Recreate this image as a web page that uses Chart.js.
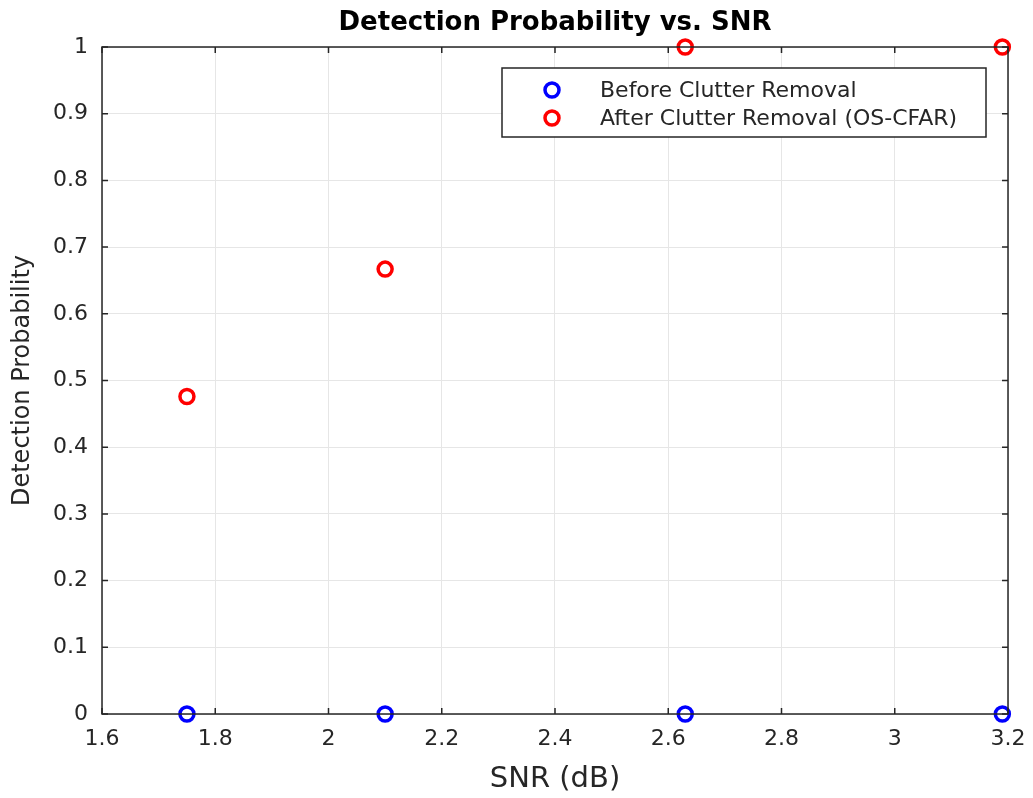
<!DOCTYPE html>
<html>
<head>
<meta charset="utf-8">
<script src="https://cdn.jsdelivr.net/npm/chart.js@4.4.0/dist/chart.umd.min.js"></script>
<style>
  html, body { margin: 0; padding: 0; background: #fff; }
  #wrap { width: 1033px; height: 798px; }
</style>
</head>
<body>
<div id="wrap"><canvas id="chart" width="1033" height="798"></canvas></div>
<script>
// data
const snrValues = [1.75, 2.1, 2.63, 3.19];
const beforeRemoval = [0, 0, 0, 0];
const afterRemoval = [0.476, 0.667, 1, 1];
const xTicks = [1.6, 1.8, 2, 2.2, 2.4, 2.6, 2.8, 3, 3.2];
const yTicks = [0, 0.1, 0.2, 0.3, 0.4, 0.5, 0.6, 0.7, 0.8, 0.9, 1];
const seriesNames = ['Before Clutter Removal', 'After Clutter Removal (OS-CFAR)'];

const FONT = '"DejaVu Sans", "Liberation Sans", Arial, sans-serif';
const toPoints = (ys) => snrValues.map((x, i) => ({ x: x, y: ys[i] }));

// black box + inward tick marks, MATLAB style
const boxPlugin = {
  id: 'box',
  afterDatasetsDraw(chart) {
    const { ctx, chartArea: a, scales } = chart;
    ctx.save();
    ctx.strokeStyle = '#262626';
    ctx.lineWidth = 1.5;
    ctx.strokeRect(a.left, a.top, a.right - a.left, a.bottom - a.top);
    ctx.beginPath();
    xTicks.forEach(t => {
      const px = scales.x.getPixelForValue(t);
      ctx.moveTo(px, a.bottom); ctx.lineTo(px, a.bottom - 6);
      ctx.moveTo(px, a.top); ctx.lineTo(px, a.top + 6);
    });
    yTicks.forEach(t => {
      const py = scales.y.getPixelForValue(t);
      ctx.moveTo(a.left, py); ctx.lineTo(a.left + 6, py);
      ctx.moveTo(a.right, py); ctx.lineTo(a.right - 6, py);
    });
    ctx.stroke();
    ctx.restore();
  },
  afterDraw(chart) {
    // legend box in the upper right corner
    const { ctx } = chart;
    ctx.save();
    ctx.fillStyle = '#fff';
    ctx.fillRect(502, 68, 484, 69);
    ctx.strokeStyle = '#262626';
    ctx.lineWidth = 1.5;
    ctx.strokeRect(502, 68, 484, 69);
    const rows = [90, 118];
    chart.data.datasets.forEach((ds, i) => {
      ctx.beginPath();
      ctx.arc(552, rows[i], 7, 0, Math.PI * 2);
      ctx.strokeStyle = ds.borderColor;
      ctx.lineWidth = 3.5;
      ctx.stroke();
      ctx.fillStyle = '#262626';
      ctx.font = '22px ' + FONT;
      ctx.textBaseline = 'middle';
      ctx.textAlign = 'left';
      ctx.fillText(ds.label, 600, rows[i] + 1);
    });
    ctx.restore();
  }
};

new Chart(document.getElementById('chart'), {
  type: 'scatter',
  data: {
    datasets: [
      {
        label: seriesNames[0],
        data: toPoints(beforeRemoval),
        borderColor: '#0000ff',
        backgroundColor: 'rgba(0,0,0,0)',
        pointRadius: 7,
        pointBorderWidth: 3.5,
        clip: false
      },
      {
        label: seriesNames[1],
        data: toPoints(afterRemoval),
        borderColor: '#ff0000',
        backgroundColor: 'rgba(0,0,0,0)',
        pointRadius: 7,
        pointBorderWidth: 3.5,
        clip: false
      }
    ]
  },
  options: {
    responsive: false,
    animation: false,
    layout: { padding: { left: 0, right: 25, top: 47, bottom: 0 } },
    plugins: {
      legend: { display: false },
      tooltip: { enabled: false },
      title: { display: false }
    },
    scales: {
      x: {
        type: 'linear',
        min: 1.6,
        max: 3.2,
        afterBuildTicks: (scale) => { scale.ticks = xTicks.map(v => ({ value: v })); },
        afterFit: (scale) => {
          scale.height = 84;
          scale.paddingLeft = 0;
          scale.paddingRight = 0;
        },
        grid: { color: '#e6e6e6', lineWidth: 1, drawTicks: false },
        border: { display: false },
        ticks: {
          color: '#262626',
          font: { family: FONT, size: 22 },
          padding: 12,
          maxRotation: 0,
          callback: (v) => String(Math.round(v * 10) / 10)
        },
        title: {
          display: true,
          text: 'SNR (dB)',
          color: '#262626',
          font: { family: FONT, size: 29 },
          padding: { top: 4, bottom: 1 }
        }
      },
      y: {
        type: 'linear',
        min: 0,
        max: 1,
        afterBuildTicks: (scale) => { scale.ticks = yTicks.map(v => ({ value: v })); },
        afterFit: (scale) => {
          scale.width = 102;
          scale.paddingTop = 0;
          scale.paddingBottom = 0;
        },
        grid: { color: '#e6e6e6', lineWidth: 1, drawTicks: false },
        border: { display: false },
        ticks: {
          color: '#262626',
          font: { family: FONT, size: 22 },
          padding: 14,
          callback: (v) => String(Math.round(v * 10) / 10)
        },
        title: {
          display: true,
          text: 'Detection Probability',
          color: '#262626',
          font: { family: FONT, size: 24 },
          padding: { top: 8, bottom: 4 }
        }
      }
    }
  },
  plugins: [boxPlugin, {
    id: 'topTitle',
    afterDraw(chart) {
      const { ctx } = chart;
      ctx.save();
      ctx.fillStyle = '#000';
      ctx.font = 'bold 26px ' + FONT;
      ctx.textAlign = 'center';
      ctx.textBaseline = 'middle';
      ctx.fillText('Detection Probability vs. SNR', 555, 23);
      ctx.restore();
    }
  }]
});
</script>
</body>
</html>
